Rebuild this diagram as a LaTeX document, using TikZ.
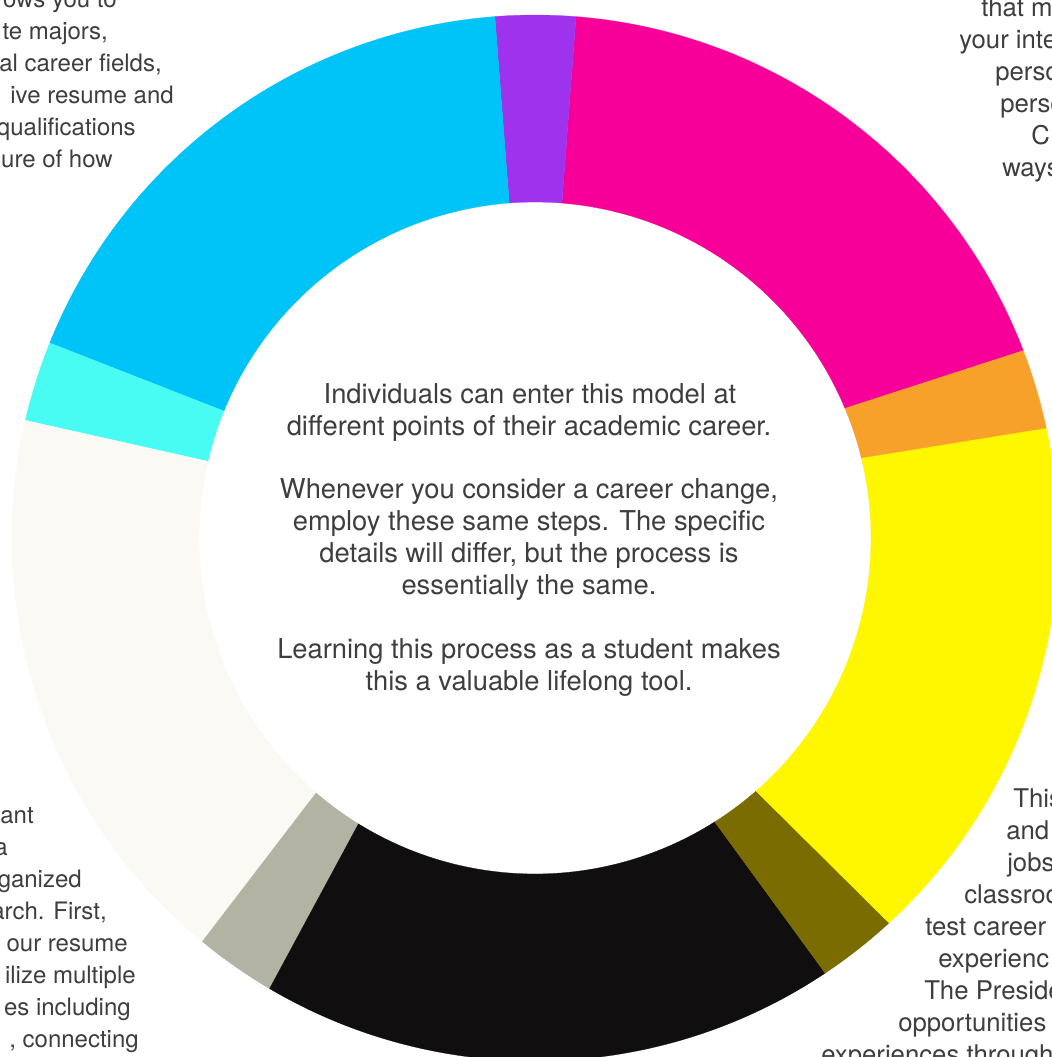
\documentclass[tikz,border=0pt]{standalone}
\usepackage{fontspec}
\setmainfont{TeX Gyre Heros}
\definecolor{cpurple}{RGB}{158,50,237}
\definecolor{cmagenta}{RGB}{247,0,153}
\definecolor{corange}{RGB}{247,161,43}
\definecolor{cyellow}{RGB}{255,247,0}
\definecolor{colive}{RGB}{122,108,0}
\definecolor{cblack}{RGB}{16,14,15}
\definecolor{cgrey}{RGB}{179,179,163}
\definecolor{ccream}{RGB}{250,249,244}
\definecolor{clcyan}{RGB}{72,252,244}
\definecolor{ccyan}{RGB}{0,195,247}
\definecolor{textgray}{RGB}{62,62,62}
\newcommand{\Rout}{392.25pt}
\newcommand{\Rin}{252pt}
% color, outer start, outer end, inner start, inner end
\newcommand{\ringseg}[5]{%
  \fill[#1, draw=#1, line width=0.2pt] (#2:\Rout) arc[start angle=#2, end angle=#3, radius=\Rout]
    -- (#5:\Rin) arc[start angle=#5, end angle=#4, radius=\Rin] -- cycle;}
\begin{document}
\begin{tikzpicture}[x=0.75pt,y=0.75pt,
  ctext/.style={font=\fontsize{20.5}{24}\selectfont, text=textgray, inner sep=0pt, anchor=base},
  ltext/.style={font=\fontsize{18}{24}\selectfont, text=textgray, inner sep=0pt, anchor=base east},
  rtext/.style={font=\fontsize{19.3}{24}\selectfont, text=textgray, inner sep=0pt, anchor=base west}]
\useasboundingbox (0,0) rectangle (1051,-1057);
\clip (0,0) rectangle (1051,-1057);
\fill[white] (0,0) rectangle (1051,-1057);

\begin{scope}[shift={(535,-538)}]
  \ringseg{cmagenta}{21.0}{85.5}{22.7}{85.4}
  \ringseg{cpurple}{85.5}{94.4}{85.4}{94.4}
  \ringseg{ccyan}{94.4}{158.1}{94.4}{157.8}
  \ringseg{clcyan}{158.1}{167.0}{157.8}{166.8}
  \ringseg{ccream}{167.0}{230.5}{166.8}{229.35}
  \ringseg{cgrey}{230.5}{239.5}{229.35}{238.3}
  \ringseg{cblack}{239.5}{303.7}{238.3}{302.34}
  \ringseg{colive}{303.7}{312.6}{302.34}{311.15}
  \ringseg{cyellow}{312.6}{372.15}{311.15}{373.8}
  \ringseg{corange}{12.15}{21.0}{13.8}{22.7}
\end{scope}

% centre text
\node[ctext] (c1) at (530,-403) {Individuals can enter this model at};
\node[ctext] (c2) at (529,-435) {different points of their academic career.};
\node[ctext] (c3) at (529,-498) {Whenever you consider a career change,};
\node[ctext] (c4) at (529,-530) {employ these same steps. The specific};
\node[ctext] (c5) at (529,-562) {details will differ, but the process is};
\node[ctext] (c6) at (529,-594) {essentially the same.};
\node[ctext] (c7) at (529,-658) {Learning this process as a student makes};
\node[ctext] (c8) at (529,-690) {this a valuable lifelong tool.};

% top-left text
\node[ltext] (tl1) at (117,-7.5) {ows you to};
\node[ltext] (tl2) at (108,-39.5) {te majors,};
\node[ltext] (tl3) at (162,-71.5) {al career fields,};
\node[ltext] (tl4) at (174,-103.5) {ive resume and};
\node[ltext] (tl5) at (136,-135.5) {qualifications};
\node[ltext] (tl6) at (113,-167.5) {ure of how};

% top-right text
\node[rtext] (tr1) at (981,-16) {that m};
\node[rtext] (tr2) at (959,-48) {your inte};
\node[rtext] (tr3) at (995,-80) {perso};
\node[rtext] (tr4) at (1000,-112) {perso};
\node[rtext] (tr5) at (1031,-144) {C};
\node[rtext] (tr6) at (1002,-176) {ways};

% bottom-left text
\node[ltext] (bl1) at (34,-823) {ant};
\node[ltext] (bl2) at (8,-855) {a};
\node[ltext] (bl3) at (82,-887) {ganized};
\node[ltext] (bl4) at (107,-919) {arch. First,};
\node[ltext] (bl5) at (128,-951) {our resume};
\node[ltext] (bl6) at (136,-983) {ilize multiple};
\node[ltext] (bl7) at (131,-1015) {es including};
\node[ltext] (bl8) at (139,-1047) {, connecting};

% bottom-right text
\node[rtext] (br1) at (1013,-807) {This};
\node[rtext] (br2) at (1006,-839) {and};
\node[rtext] (br3) at (1007,-871) {jobs};
\node[rtext] (br4) at (964,-903) {classroo};
\node[rtext] (br5) at (925,-935) {test career};
\node[rtext] (br6) at (938,-967) {experienc};
\node[rtext] (br7) at (924,-999) {The Preside};
\node[rtext] (br8) at (898,-1031) {opportunities};
\node[rtext] (br9) at (821,-1063) {experiences through};
\end{tikzpicture}
\end{document}
